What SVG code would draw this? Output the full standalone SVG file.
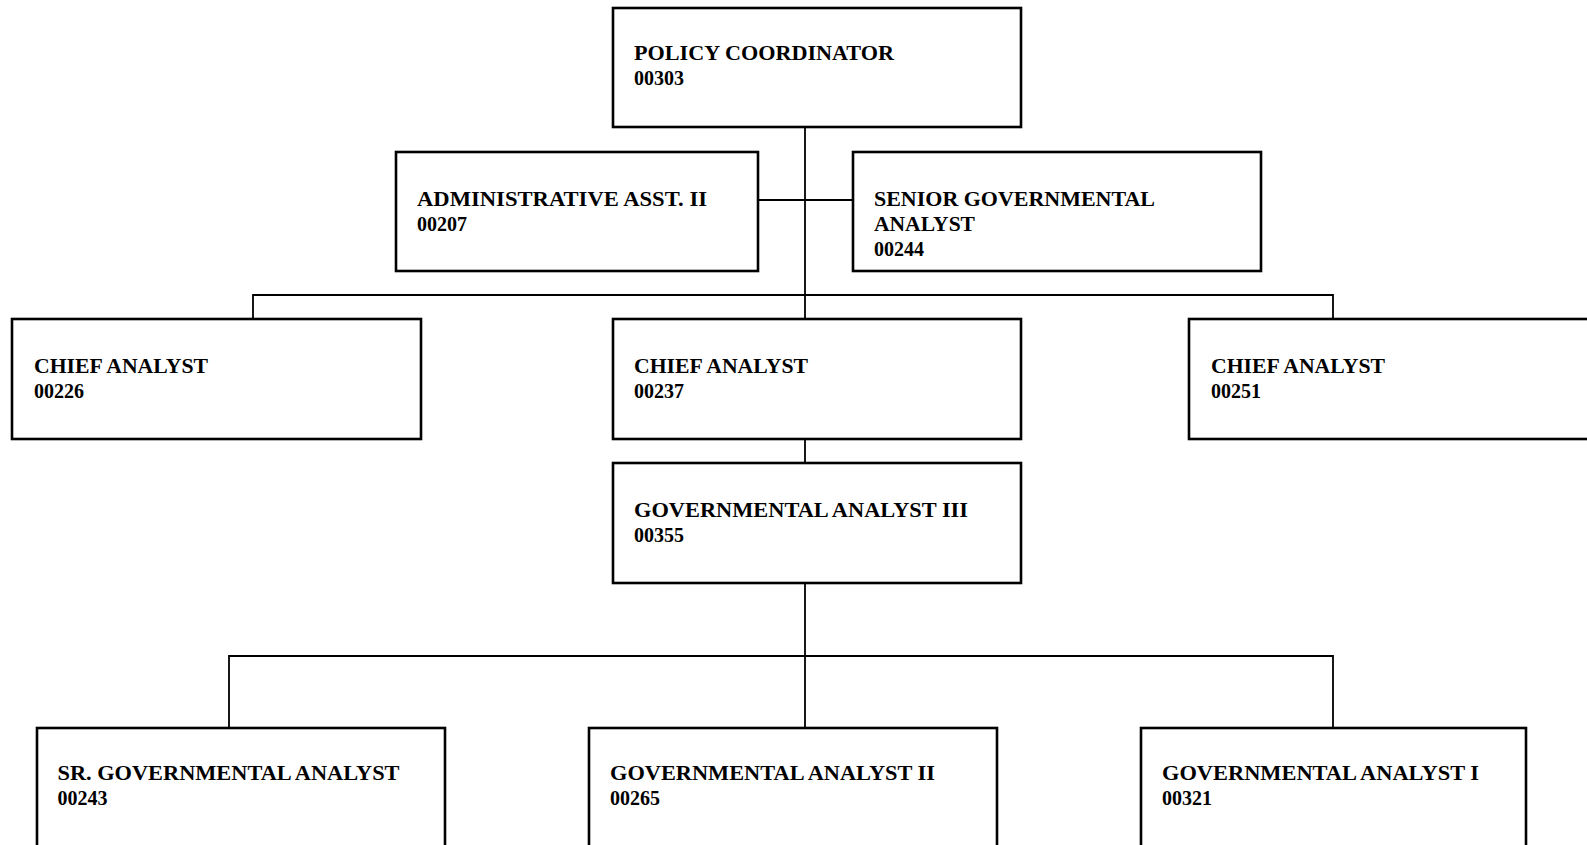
<svg xmlns="http://www.w3.org/2000/svg" width="1587" height="845" viewBox="0 0 1587 845">
<style>
.box{fill:#fff;stroke:#000;stroke-width:2.6}
.con{fill:none;stroke:#000;stroke-width:1.8}
text{font-family:"Liberation Serif","Times New Roman",serif;font-weight:bold;font-size:20px;fill:#000}
</style>
<rect x="0" y="0" width="1587" height="845" fill="#fff"/>
<g id="connectors">
<path class="con" d="M805,127V319M758,200H853M253,319V295H1333V319M805,439V463M805,583V728M229,728V656H1333V728"/>
</g>
<g id="n00303"><rect class="box" x="613" y="8" width="408" height="119"/><text x="634" y="59.5" textLength="260" lengthAdjust="spacingAndGlyphs">POLICY COORDINATOR</text><text x="634" y="85">00303</text></g>
<g id="n00207"><rect class="box" x="396" y="152" width="362" height="119"/><text x="417" y="205.5" textLength="290" lengthAdjust="spacingAndGlyphs">ADMINISTRATIVE ASST. II</text><text x="417" y="231">00207</text></g>
<g id="n00244"><rect class="box" x="853" y="152" width="408" height="119"/><text x="874" y="205.5" textLength="281" lengthAdjust="spacingAndGlyphs">SENIOR GOVERNMENTAL</text><text x="874" y="231" textLength="101" lengthAdjust="spacingAndGlyphs">ANALYST</text><text x="874" y="256">00244</text></g>
<g id="n00226"><rect class="box" x="12" y="319" width="409" height="120"/><text x="34" y="372.5" textLength="174" lengthAdjust="spacingAndGlyphs">CHIEF ANALYST</text><text x="34" y="398">00226</text></g>
<g id="n00237"><rect class="box" x="613" y="319" width="408" height="120"/><text x="634" y="372.5" textLength="174" lengthAdjust="spacingAndGlyphs">CHIEF ANALYST</text><text x="634" y="398">00237</text></g>
<g id="n00251"><rect class="box" x="1189" y="319" width="430" height="120"/><text x="1211" y="372.5" textLength="174" lengthAdjust="spacingAndGlyphs">CHIEF ANALYST</text><text x="1211" y="398">00251</text></g>
<g id="n00355"><rect class="box" x="613" y="463" width="408" height="120"/><text x="634" y="516.5" textLength="334" lengthAdjust="spacingAndGlyphs">GOVERNMENTAL ANALYST III</text><text x="634" y="542">00355</text></g>
<g id="n00243"><rect class="box" x="37" y="728" width="408" height="140"/><text x="57.5" y="779.5" textLength="342" lengthAdjust="spacingAndGlyphs">SR. GOVERNMENTAL ANALYST</text><text x="57.5" y="805">00243</text></g>
<g id="n00265"><rect class="box" x="589" y="728" width="408" height="140"/><text x="610" y="779.5" textLength="325" lengthAdjust="spacingAndGlyphs">GOVERNMENTAL ANALYST II</text><text x="610" y="805">00265</text></g>
<g id="n00321"><rect class="box" x="1141" y="728" width="385" height="140"/><text x="1162" y="779.5" textLength="317" lengthAdjust="spacingAndGlyphs">GOVERNMENTAL ANALYST I</text><text x="1162" y="805">00321</text></g>
</svg>
